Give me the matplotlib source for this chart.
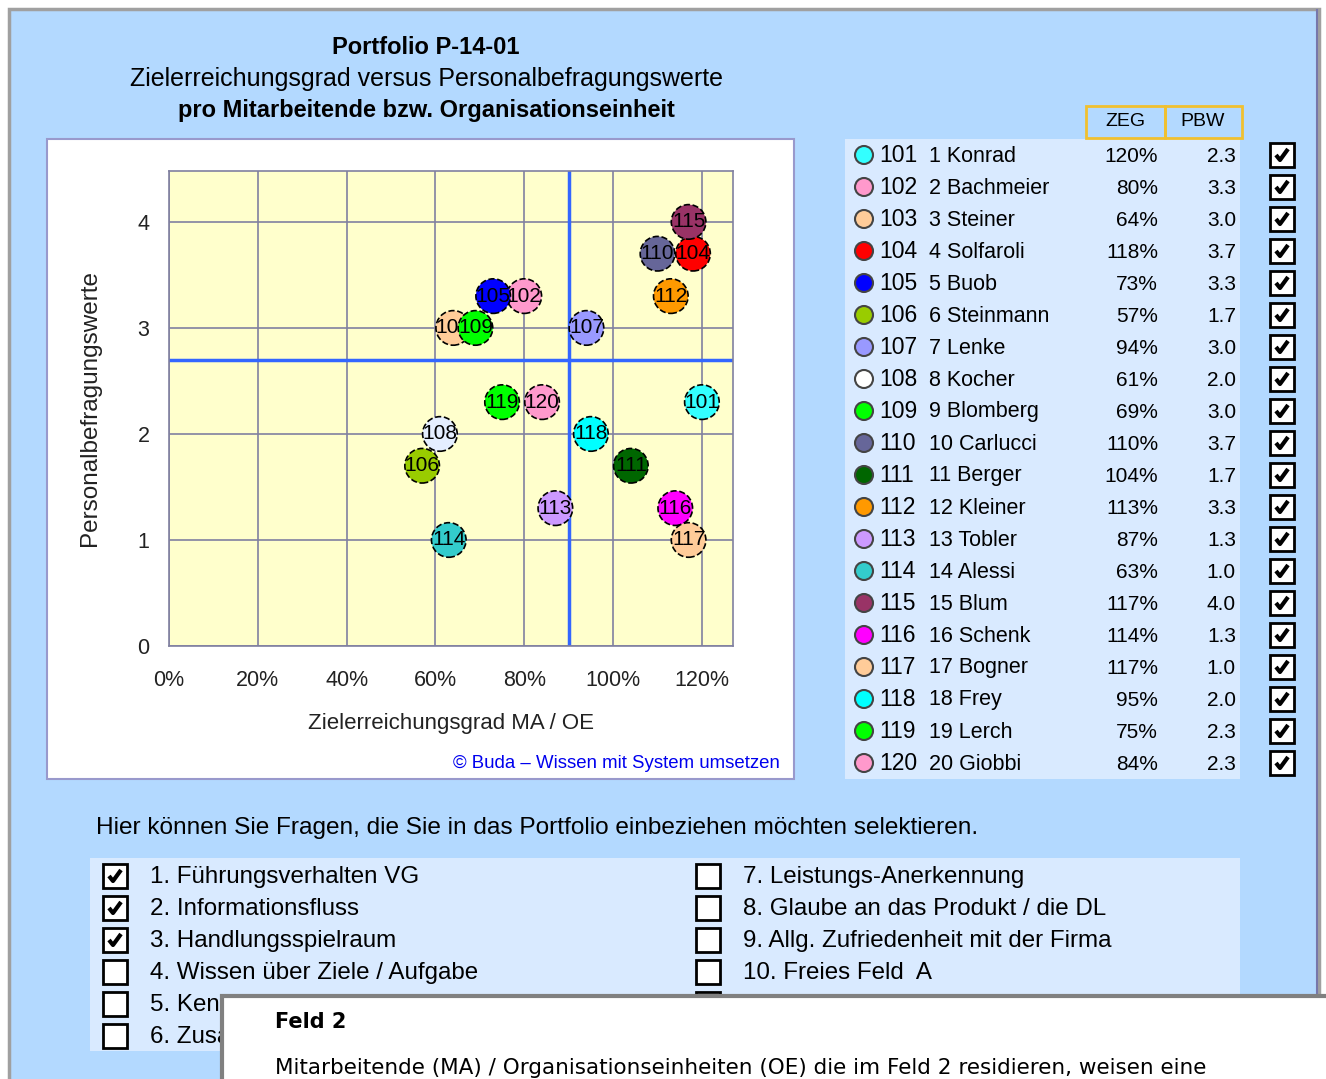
import matplotlib
matplotlib.use('Agg')
import matplotlib.pyplot as plt
from matplotlib.patches import Rectangle, Circle
from matplotlib.ticker import FuncFormatter

plt.rcParams['font.family'] = ['Liberation Sans', 'DejaVu Sans']

# data
codes = ['101', '102', '103', '104', '105', '106', '107', '108', '109', '110',
         '111', '112', '113', '114', '115', '116', '117', '118', '119', '120']
names = ['1 Konrad', '2 Bachmeier', '3 Steiner', '4 Solfaroli', '5 Buob',
         '6 Steinmann', '7 Lenke', '8 Kocher', '9 Blomberg', '10 Carlucci',
         '11 Berger', '12 Kleiner', '13 Tobler', '14 Alessi', '15 Blum',
         '16 Schenk', '17 Bogner', '18 Frey', '19 Lerch', '20 Giobbi']
zeg = [120, 80, 64, 118, 73, 57, 94, 61, 69, 110,
       104, 113, 87, 63, 117, 114, 117, 95, 75, 84]
pbw = [2.3, 3.3, 3.0, 3.7, 3.3, 1.7, 3.0, 2.0, 3.0, 3.7,
       1.7, 3.3, 1.3, 1.0, 4.0, 1.3, 1.0, 2.0, 2.3, 2.3]
colors = ['#33FFFF', '#FF99CC', '#FFCC99', '#FF0000', '#0000FF', '#99CC00',
          '#9999FF', '#E4EEFF', '#00FF00', '#666699', '#006600', '#FF9900',
          '#CC99FF', '#33CCCC', '#993366', '#FF00FF', '#FFCC99', '#00FFFF',
          '#00FF00', '#FF99CC']
zeg_limit = 90
pbw_limit = 2.7

questions_left = ['1. Führungsverhalten VG', '2. Informationsfluss',
                  '3. Handlungsspielraum', '4. Wissen über Ziele / Aufgabe',
                  '5. Kennzahlen', '6. Zusammenarbeit']
checked_left = [True, True, True, False, False, False]
questions_right = ['7. Leistungs-Anerkennung', '8. Glaube an das Produkt / die DL',
                   '9. Allg. Zufriedenheit mit der Firma', '10. Freies Feld  A',
                   '11. Freies Feld  B', '12. Freies Feld  C']
checked_right = [False] * 6

W, H = 1326, 1079
fig = plt.figure(figsize=(W / 100, H / 100), dpi=100)
fig.patch.set_facecolor('white')

# background canvas in pixel coordinates
bg = fig.add_axes([0, 0, 1, 1])
bg.set_xlim(0, W)
bg.set_ylim(H, 0)
bg.axis('off')

BLUE = '#B3D9FF'
LIGHT = '#D9EAFF'

bg.add_patch(Rectangle((9, 9), 1310, 1080, facecolor=BLUE, edgecolor='#A0A0A0', lw=2.5))
bg.plot([1317, 1317], [10, H], color='#7777AA', lw=1.5)

# titles
bg.text(426, 47, 'Portfolio P-14-01', ha='center', va='center', fontsize=17, fontweight='bold')
bg.text(426, 79, 'Zielerreichungsgrad versus Personalbefragungswerte', ha='center', va='center', fontsize=18)
bg.text(426, 111, 'pro Mitarbeitende bzw. Organisationseinheit', ha='center', va='center', fontsize=17, fontweight='bold')

# chart frame
bg.add_patch(Rectangle((47, 139), 747, 640, facecolor='white', edgecolor='#9999CC', lw=1.5))
bg.text(780, 763, '© Buda – Wissen mit System umsetzen', ha='right', va='center', fontsize=13.4, color='#0000EE')

# scatter plot
ax = fig.add_axes([169 / W, 1 - 646 / H, (733 - 169) / W, (646 - 171) / H])
ax.set_facecolor('#FFFFCC')
ax.set_xlim(0, 127)
ax.set_ylim(0, 4.48)
ax.set_xticks([0, 20, 40, 60, 80, 100, 120])
ax.set_yticks([0, 1, 2, 3, 4])
ax.xaxis.set_major_formatter(FuncFormatter(lambda v, p: f'{int(v)}%'))
ax.grid(True, color='#8080A0', lw=1.2)
ax.set_axisbelow(True)
for s in ax.spines.values():
    s.set_color('#8080A0')
    s.set_linewidth(1.2)
ax.tick_params(length=0, labelsize=15.5, colors='#222222')
ax.tick_params(axis='x', pad=17)
ax.tick_params(axis='y', pad=14)
ax.axvline(zeg_limit, color='#3366FF', lw=2.5, zorder=2)
ax.axhline(pbw_limit, color='#3366FF', lw=2.5, zorder=2)
ax.set_xlabel('Zielerreichungsgrad MA / OE', fontsize=16, labelpad=16, color='#222222')
ax.set_ylabel('Personalbefragungswerte', fontsize=17.5, labelpad=26, color='#222222')

for i in range(len(codes)):
    ax.scatter(zeg[i], pbw[i], s=620, color=colors[i], edgecolors='black',
               linewidths=1.2, linestyle='--', zorder=3 + 2 * i)
    ax.text(zeg[i], pbw[i], codes[i], ha='center', va='center', fontsize=15,
            zorder=4 + 2 * i, clip_on=True)


def checkbox(x, y, checked, size=24):
    bg.add_patch(Rectangle((x - size / 2, y - size / 2), size, size,
                           facecolor='white', edgecolor='black', lw=2, zorder=5))
    if checked:
        bg.plot([x - 6, x - 2, x + 6], [y, y + 5, y - 6], color='black', lw=3,
                solid_capstyle='butt', zorder=6)


# list on the right
bg.add_patch(Rectangle((845, 139), 395, 640, facecolor=LIGHT, edgecolor='none'))
bg.add_patch(Rectangle((1086, 106), 79, 32, facecolor='none', edgecolor='#F0C030', lw=2))
bg.add_patch(Rectangle((1165, 106), 77, 32, facecolor='none', edgecolor='#F0C030', lw=2))
bg.text(1125, 122, 'ZEG', ha='center', va='center', fontsize=14)
bg.text(1203, 122, 'PBW', ha='center', va='center', fontsize=14)
for i in range(len(codes)):
    y = 155 + 32 * i
    bg.add_patch(Circle((864, y), 9, facecolor=colors[i] if codes[i] != '108' else 'white',
                        edgecolor='#444444', lw=1.5))
    bg.text(879, y + 1, codes[i], ha='left', va='center', fontsize=16.5)
    bg.text(929, y + 1, names[i], ha='left', va='center', fontsize=15.5)
    bg.text(1158, y + 1, f'{zeg[i]}%', ha='right', va='center', fontsize=15)
    bg.text(1236, y + 1, f'{pbw[i]:.1f}', ha='right', va='center', fontsize=15)
    checkbox(1282, y, True)

# question selection
bg.text(96, 828, 'Hier können Sie Fragen, die Sie in das Portfolio einbeziehen möchten selektieren.',
        ha='left', va='center', fontsize=17.6)
bg.add_patch(Rectangle((90, 858), 1150, 193, facecolor=LIGHT, edgecolor='none'))
for i in range(len(questions_left)):
    y = 876 + 32 * i
    checkbox(115, y, checked_left[i])
    bg.text(150, y + 1, questions_left[i], ha='left', va='center', fontsize=17.4)
    checkbox(708, y, checked_right[i])
    bg.text(743, y + 1, questions_right[i], ha='left', va='center', fontsize=17.4)

# popup
bg.add_patch(Rectangle((222, 996), 1110, 100, facecolor='white', edgecolor='#808080', lw=3, zorder=20))
bg.text(275, 1022, 'Feld 2', ha='left', va='center', fontsize=15, fontweight='bold',
        family='DejaVu Sans', zorder=21)
bg.text(275, 1068, 'Mitarbeitende (MA) / Organisationseinheiten (OE) die im Feld 2 residieren, weisen eine',
        ha='left', va='center', fontsize=15.5, family='DejaVu Sans', zorder=21)

fig.savefig('out.png', dpi=100)
